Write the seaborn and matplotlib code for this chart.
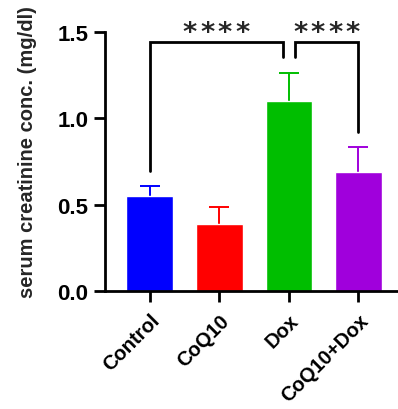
import pandas as pd
import matplotlib
matplotlib.use("Agg")
import matplotlib.pyplot as plt
import matplotlib.transforms as mtransforms
import seaborn as sns

groups = ['Control', 'CoQ10', 'Dox', 'CoQ10+Dox']
means = [0.55, 0.39, 1.10, 0.69]
errors = [0.06, 0.095, 0.16, 0.145]
colors = ['#0000FF', '#FF0000', '#00BE00', '#A000DC']

# significance brackets: (left x, right x, top y, left leg bottom, right leg bottom, label)
brackets = [
    (0, 1.91, 1.44, 0.695, 1.355, '****'),
    (2.09, 3, 1.44, 1.355, 0.92, '****'),
]

sns.set_style("ticks")
plt.rcParams['font.family'] = ['Liberation Sans', 'DejaVu Sans']
plt.rcParams['font.weight'] = 'bold'

df = pd.DataFrame({'group': groups, 'mean': means, 'err': errors})

fig = plt.figure(figsize=(3.98, 4.10), dpi=100)
ax = fig.add_axes([0.264, 0.288, 0.736, 0.632])

sns.barplot(data=df, x='group', y='mean', hue='group', palette=colors,
            errorbar=None, width=0.67, legend=False, ax=ax, saturation=1)
for p in ax.patches:
    p.set_zorder(2)

# upper error bars only, lower half hidden behind the bars
for i, (m, e, c) in enumerate(zip(means, errors, colors)):
    ax.errorbar(i, m, yerr=e, fmt='none', ecolor=c,
                elinewidth=1.4, capsize=7, capthick=1.4, zorder=1)

for x0, x1, top, b0, b1, lab in brackets:
    ax.plot([x0, x0, x1, x1], [b0, top, top, b1], color='black', lw=2,
            clip_on=False, solid_joinstyle='miter')
    # stars are spread out a bit, one text per star
    n = len(lab)
    for k, ch in enumerate(lab):
        dx = (k - (n - 1) / 2) * 12.6  # points
        tr = ax.transData + mtransforms.ScaledTranslation(dx / 72, 0, fig.dpi_scale_trans)
        ax.text((x0 + x1) / 2, top + 0.01, ch, ha='center', va='baseline',
                fontsize=19.5, fontweight='bold', family='DejaVu Sans',
                transform=tr, clip_on=False)

ax.set_xlim(-0.643, 3.57)
ax.set_ylim(0, 1.5)
ax.set_yticks([0.0, 0.5, 1.0, 1.5])
ax.set_yticklabels(['0.0', '0.5', '1.0', '1.5'], fontsize=16, fontweight='bold')
ax.set_xticks(range(len(groups)))
ax.set_xticklabels(groups, rotation=45, ha='right', rotation_mode='anchor',
                   fontsize=14.5, fontweight='bold')
shift = mtransforms.ScaledTranslation(-10 / 72, 0, fig.dpi_scale_trans)
for t in ax.get_xticklabels():
    t.set_transform(t.get_transform() + shift)
ax.set_xlabel('')
ax.set_ylabel('serum creatinine conc. (mg/dl)', fontsize=14.5, fontweight='bold')
ax.yaxis.set_label_coords(-0.232, 0.54)
ax.tick_params(axis='both', width=2, length=8, colors='black')
ax.tick_params(axis='y', pad=4)
ax.tick_params(axis='x', pad=6)
for s in ['left', 'bottom']:
    ax.spines[s].set_linewidth(2)
    ax.spines[s].set_color('black')
sns.despine(ax=ax)

fig.savefig('out.png', dpi=100)
